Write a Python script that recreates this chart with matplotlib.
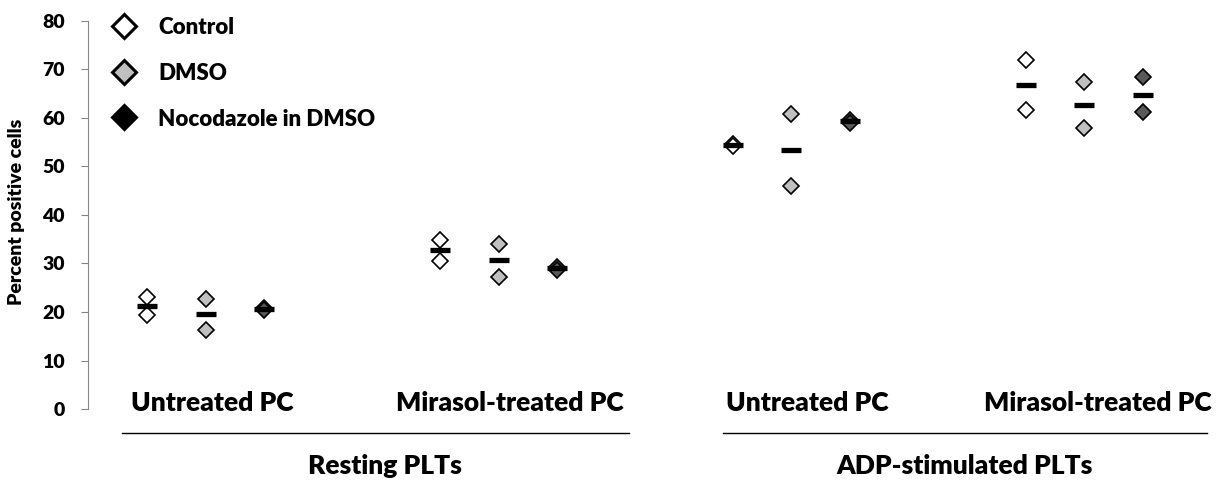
import matplotlib
matplotlib.use("Agg")
import matplotlib.pyplot as plt
from matplotlib.lines import Line2D
import numpy as np

plt.rcParams['font.family'] = ['Lato', 'DejaVu Sans']
WEIGHT = 'heavy'
plt.rcParams['font.weight'] = WEIGHT

series = ["Control", "DMSO", "Nocodazole in DMSO"]
groups = ["Untreated PC", "Mirasol-treated PC", "Untreated PC", "Mirasol-treated PC"]
supergroups = ["Resting PLTs", "ADP-stimulated PLTs"]

# two replicate values per series per group (group order as above)
control_hi = [23.1, 34.8, 54.6, 71.9]
control_lo = [19.4, 30.5, 54.2, 61.6]
dmso_hi = [22.6, 34.0, 60.8, 67.4]
dmso_lo = [16.3, 27.3, 46.0, 57.9]
noco_hi = [20.9, 29.3, 59.6, 68.4]
noco_lo = [20.4, 28.7, 59.0, 61.2]
means_control = [21.2, 32.7, 54.4, 66.8]
means_dmso = [19.5, 30.7, 53.5, 62.6]
means_noco = [20.6, 29.0, 59.3, 64.8]

fills = ["white", "#c0c0c0", "#595959"]
legend_fills = ["white", "#c0c0c0", "black"]

W, H = 1219, 487
fig = plt.figure(figsize=(W/100, H/100), dpi=100)
unit = 58.59
ax = fig.add_axes([88.4/W, 1-409/H, 19*unit/W, (409-21)/H])

group_start = np.array([1, 6, 11, 16])
his = [control_hi, dmso_hi, noco_hi]
los = [control_lo, dmso_lo, noco_lo]
means = [means_control, means_dmso, means_noco]
for i in range(3):
    xs = group_start + i
    for vals in (his[i], los[i]):
        ax.plot(xs, vals, linestyle='none', marker='D', markersize=8.2,
                markerfacecolor=fills[i], markeredgecolor='black', markeredgewidth=1.2, zorder=3)
    ax.plot(xs, means[i], linestyle='none', marker='_', markersize=14.5,
            markeredgewidth=3.8, color='black', zorder=4)

ax.set_xlim(0, 19)
ax.set_ylim(0, 80)
ax.set_yticks(np.arange(0, 81, 10))
ax.tick_params(axis='y', direction='out', length=5, width=0.8, color='#868686',
               labelsize=14, pad=12)
for lab in ax.get_yticklabels():
    lab.set_fontweight(WEIGHT)
ax.set_xticks([])
for s in ['top', 'right', 'bottom']:
    ax.spines[s].set_visible(False)
ax.spines['left'].set_color('#868686')
ax.spines['left'].set_linewidth(0.8)

# category labels (baseline just above the y=0 row)
label_offsets = [0.12, 0.2, 0.27, 0.22]
for gs, off, name in zip(group_start, label_offsets, groups):
    ax.text(gs + 1 + off, -2/388, name, ha='center', va='baseline', fontsize=19,
            fontweight=WEIGHT, transform=ax.get_xaxis_transform(), clip_on=False)

# group lines and supergroup labels
line_spans = [(122, 629), (723, 1207)]
label_x = [385, 965]
for (x0, x1), lx, name in zip(line_spans, label_x, supergroups):
    fig.add_artist(Line2D([x0/W, x1/W], [1-433/H, 1-433/H], color='black', lw=1.0))
    fig.text(lx/W, 1-474/H, name, ha='center', va='baseline', fontsize=19, fontweight=WEIGHT)

fig.text(17/W, 1-212/H, "Percent positive cells", rotation=90, ha='center', va='center',
         fontsize=14, fontweight=WEIGHT)

# legend
leg_y = [26, 72, 117]
for f, name, y in zip(legend_fills, series, leg_y):
    fig.add_artist(Line2D([124/W], [1-y/H], linestyle='none', marker='D', markersize=12.5,
                          markerfacecolor=f, markeredgecolor='black', markeredgewidth=2.2))
    fig.text(158/W, 1-y/H, name, ha='left', va='center_baseline', fontsize=16, fontweight=WEIGHT)

fig.savefig("out.png", dpi=100)
